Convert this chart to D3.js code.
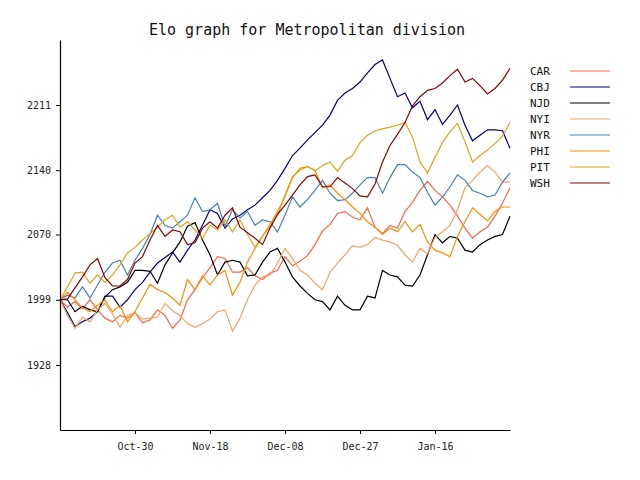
<!DOCTYPE html>
<html>
<head>
  <meta charset="utf-8">
  <script src="https://cdn.jsdelivr.net/npm/d3@7/dist/d3.min.js"></script>
</head>
<style>
  body { margin: 0; background: #fff; }
  text { font-family: "DejaVu Sans Mono", monospace; }
</style>
<body>
  <svg id="chart" width="640" height="480"></svg>

  <script>
    // teams in legend order
    var teams = ['CAR', 'CBJ', 'NJD', 'NYI', 'NYR', 'PHI', 'PIT', 'WSH'];
    var colors = ['tomato', 'navy', 'black', 'sandybrown', 'steelblue', 'darkorange', 'goldenrod', 'darkred'];

    // elo per step (61 steps across the season)
    var CAR = [1999,1991,1997,1989,1999,1988,1979,1975,1982,1979,1985,1974,1977,1988,1982,1968,1977,1999,2010,2023,
      2034,2046,2044,2029,2029,2034,2025,2021,2028,2031,2046,2036,2041,2047,2059,2074,2081,2093,2095,2089,
      2086,2099,2078,2071,2080,2077,2095,2105,2118,2128,2118,2111,2102,2090,2077,2066,2073,2078,2090,2104,2121];
    var CBJ = [1999,1985,1970,1975,1979,1986,2003,2003,1991,1999,2010,2018,2029,2039,2045,2051,2040,2053,2064,2080,
      2097,2093,2077,2087,2091,2097,2102,2110,2118,2129,2142,2156,2164,2173,2181,2189,2200,2216,2224,2229,
      2236,2246,2255,2260,2240,2220,2224,2208,2215,2195,2206,2190,2200,2211,2189,2172,2178,2184,2184,2183,2164];
    var NJD = [1999,1999,1986,1992,1988,1986,2002,2010,2013,2018,2031,2031,2030,2017,2037,2050,2062,2079,2083,2064,
      2048,2026,2040,2042,2040,2025,2026,2040,2051,2055,2040,2024,2014,2006,1999,1997,1988,2003,1993,1988,
      1988,2003,2001,2031,2026,2024,2015,2014,2026,2048,2070,2061,2068,2066,2053,2051,2059,2064,2068,2070,2090];
    var NYI = [1999,1982,1968,1980,1975,1988,1995,1984,1969,1982,1985,1978,1979,1980,1995,1987,1982,1973,1969,1973,
      1978,1986,1988,1965,1979,1999,2015,2024,2026,2039,2055,2044,2031,2026,2017,2010,2029,2039,2048,2058,
      2056,2059,2067,2064,2062,2058,2048,2040,2055,2049,2067,2073,2080,2097,2121,2129,2138,2145,2138,2127,2127];
    var NYR = [1999,2004,2001,2013,2001,2015,2029,2039,2042,2026,2042,2055,2070,2091,2080,2077,2084,2091,2110,2095,
      2097,2104,2079,2097,2088,2095,2080,2086,2084,2073,2091,2111,2100,2108,2118,2129,2115,2107,2108,2115,
      2124,2132,2132,2115,2132,2146,2146,2138,2132,2116,2102,2111,2122,2135,2129,2118,2115,2111,2113,2127,2137];
    var PHI = [1999,2007,1999,1990,1986,1993,1999,1986,1993,1975,1986,2001,2016,2010,2007,2001,1993,2021,2010,2025,
      2015,2026,2031,2004,2018,2040,2055,2068,2081,2095,2111,2132,2142,2144,2140,2121,2124,2115,2108,2100,
      2093,2084,2078,2070,2077,2073,2084,2073,2081,2062,2053,2050,2046,2068,2084,2099,2092,2085,2095,2100,2100];
    var PIT = [1999,2013,2028,2029,2017,2026,2018,2026,2037,2050,2056,2064,2071,2078,2086,2091,2078,2084,2075,2066,
      2080,2075,2086,2073,2086,2070,2056,2068,2079,2091,2113,2133,2140,2144,2139,2145,2149,2139,2151,2156,
      2170,2178,2183,2185,2187,2189,2192,2176,2149,2137,2154,2170,2182,2191,2171,2149,2156,2162,2169,2177,2192];
    var WSH = [1999,2000,2012,2024,2037,2044,2023,2014,2014,2021,2039,2046,2064,2080,2068,2075,2073,2059,2061,2077,
      2084,2077,2091,2099,2078,2072,2066,2059,2077,2092,2102,2113,2124,2133,2135,2122,2122,2132,2126,2120,
      2112,2111,2125,2149,2167,2179,2192,2210,2220,2227,2229,2235,2243,2250,2236,2240,2232,2223,2229,2238,2251];

    var xTicks = [10, 20, 30, 40, 50];
    var xTickLabels = ['Oct-30', 'Nov-18', 'Dec-08', 'Dec-27', 'Jan-16'];
    var yTicks = [1928, 1999, 2070, 2140, 2211];

    var series = [CAR, CBJ, NJD, NYI, NYR, PHI, PIT, WSH];

    var svg = d3.select('#chart');

    var x = d3.scaleLinear().domain([0, 60]).range([60, 510]);
    var y = d3.scaleLinear().domain([1857.25, 2281.75]).range([430, 40]);

    // title
    svg.append('text')
      .attr('x', 307)
      .attr('y', 35)
      .attr('text-anchor', 'middle')
      .attr('font-size', '15px')
      .attr('fill', '#111')
      .text('Elo graph for Metropolitan division');

    // lines
    var line = d3.line()
      .x(function (d, i) { return x(i); })
      .y(function (d) { return y(d); });

    svg.selectAll('path.team')
      .data(series)
      .enter()
      .append('path')
      .attr('class', 'team')
      .attr('d', line)
      .attr('fill', 'none')
      .attr('stroke', function (d, i) { return colors[i]; })
      .attr('stroke-width', 1.2);

    // axes
    var xAxis = d3.axisBottom(x)
      .tickValues(xTicks)
      .tickFormat(function (d, i) { return xTickLabels[i]; })
      .tickSize(4)
      .tickSizeOuter(0);
    var yAxis = d3.axisLeft(y)
      .tickValues(yTicks)
      .tickFormat(d3.format('d'))
      .tickSize(4)
      .tickSizeOuter(0);

    var gx = svg.append('g').attr('transform', 'translate(0,430)').call(xAxis);
    var gy = svg.append('g').attr('transform', 'translate(60,0)').call(yAxis);

    [gx, gy].forEach(function (g) {
      g.select('.domain').attr('stroke', '#000').attr('stroke-width', 1.2);
      g.selectAll('.tick line').attr('stroke', '#000');
      g.selectAll('.tick text')
        .attr('font-family', '"DejaVu Sans Mono", monospace')
        .attr('font-size', '10px')
        .attr('fill', '#222');
    });
    gx.selectAll('.tick text').attr('dy', '1.3em');
    gy.selectAll('.tick text').attr('x', -9);

    // legend
    var legend = svg.append('g');
    var rows = legend.selectAll('g')
      .data(teams)
      .enter()
      .append('g')
      .attr('transform', function (d, i) { return 'translate(530,' + (71 + i * 16) + ')'; });
    rows.append('text')
      .attr('y', 4)
      .attr('font-size', '11px')
      .attr('fill', '#111')
      .text(function (d) { return d; });
    rows.append('line')
      .attr('x1', 40)
      .attr('x2', 80)
      .attr('stroke', function (d, i) { return colors[i]; })
      .attr('stroke-width', 1.2);
  </script>
</body>
</html>
